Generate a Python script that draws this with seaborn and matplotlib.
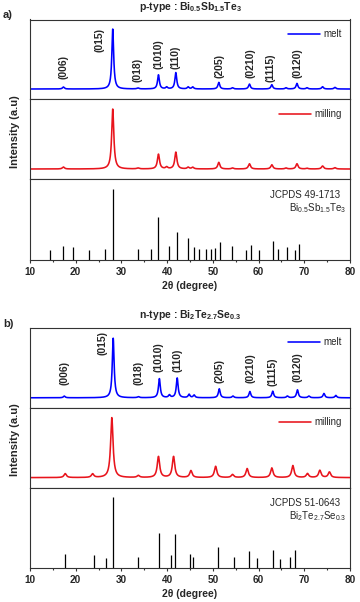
"""XRD patterns of p-type and n-type BiSbTe / BiTeSe: melt, milling and JCPDS sticks."""

import matplotlib
matplotlib.use("Agg")

import matplotlib.pyplot as plt  # noqa: E402
import numpy as np  # noqa: E402
import seaborn as sns  # noqa: E402

sns.set_style("ticks")
plt.rcParams["font.family"] = ["Liberation Sans", "DejaVu Sans"]
plt.rcParams["mathtext.fontset"] = "custom"
plt.rcParams["mathtext.rm"] = "Liberation Sans"
plt.rcParams["mathtext.it"] = "Liberation Sans:italic"
plt.rcParams["mathtext.bf"] = "Liberation Sans:bold"

# === Data (2theta in degree, intensity normalised to the (015) peak = 100) ===
p_melt_pos = [17.3, 28.1, 33.6, 38.1, 39.9, 41.9, 44.6, 45.6, 51.3, 54.3,
              58.0, 62.9, 66.0, 68.4, 70.6, 74.0, 76.7]
p_melt_int = [3.3, 100, 1.6, 23.5, 3, 27.3, 3.3, 3.3, 11, 2,
              8.2, 7.1, 2, 9.3, 2, 3.8, 2.7]
p_mill_pos = p_melt_pos
p_mill_int = [3.3, 100, 1.5, 24.6, 3, 28, 2.7, 2.7, 11, 1.6,
              8.7, 7, 1.6, 8.7, 1.2, 5, 2.2]

n_melt_pos = [17.5, 28.2, 33.7, 38.3, 40.5, 42.2, 44.8, 45.9, 51.4, 54.4,
              58.1, 63.1, 66.3, 68.5, 71.0, 74.3, 76.9]
n_melt_int = [2.8, 100, 1.7, 32, 4.4, 33, 5.6, 4.4, 15, 2.8,
              10.5, 11, 2.8, 13.3, 2.8, 7.2, 3.9]
n_mill_pos = [17.7, 23.7, 27.9, 33.7, 38.1, 41.4, 45.2, 50.6, 54.3, 57.5,
              62.9, 67.5, 70.7, 73.4, 75.5]
n_mill_int = [6.6, 6, 100, 3.3, 35, 35, 11.5, 18.7, 5, 15,
              16, 20, 6.6, 12, 9.3]

jc_p_pos = [14.4, 17.3, 19.4, 23.0, 26.3, 28.1, 33.6, 36.5, 38.1, 40.4,
            42.1, 44.6, 45.8, 47.0, 48.4, 49.6, 50.5, 51.6, 54.1, 57.3,
            58.3, 60.1, 63.1, 64.2, 66.2, 67.9, 68.9]
jc_p_int = [13.7, 18.9, 17.0, 13.7, 14.2, 100, 15.1, 15.1, 59.9, 18.4,
            38.7, 30.2, 17.9, 15.1, 14.2, 14.2, 16.0, 24.1, 18.4, 13.7,
            19.8, 13.7, 25.5, 14.2, 17.5, 13.2, 21.2]
jc_n_pos = [17.7, 24.0, 26.6, 28.1, 33.7, 38.3, 40.8, 41.7, 45.1, 45.6,
            51.1, 54.6, 57.8, 59.7, 63.1, 64.7, 66.8, 67.9]
jc_n_int = [18.9, 17.0, 13.7, 100, 14.2, 48.6, 17.5, 47.2, 18.4, 14.6,
            29.2, 15.1, 23.1, 13.7, 24.5, 12.7, 15.1, 25.0]

hkl_labels = ["(006)", "(015)", "(018)", "(1010)", "(110)",
              "(205)", "(0210)", "(1115)", "(0120)"]
p_hkl_x = [17.4, 25.3, 33.6, 38.0, 41.8, 51.5, 58.3, 62.7, 68.5]
p_hkl_y = [16, 62, 12, 34, 34, 18, 18, 12, 18]
n_hkl_x = [17.5, 25.8, 33.7, 38.1, 42.2, 51.5, 58.3, 63.1, 68.6]
n_hkl_y = [21, 71, 21, 44, 44, 24, 24, 20, 26]

two_theta = np.linspace(10, 80, 3501)


def profile(pos, inten, hwhm):
    # sum of Lorentzian peaks at the listed positions
    y = np.zeros_like(two_theta)
    for p, h in zip(pos, inten):
        y += h / (1 + ((two_theta - p) / hwhm) ** 2)
    return y


W, H = 360, 602
fig = plt.figure(figsize=(W / 100, H / 100), dpi=100)

groups = [
    dict(top=19.5, title=r"p-type : Bi$_\mathbf{0.5}$Sb$_\mathbf{1.5}$Te$_\mathbf{3}$",
         tag="a)", melt=(p_melt_pos, p_melt_int, 0.24), mill=(p_mill_pos, p_mill_int, 0.28),
         sticks=(jc_p_pos, jc_p_int), card="JCPDS 49-1713",
         phase=r"Bi$_{0.5}$Sb$_{1.5}$Te$_3$", hx=p_hkl_x, hy=p_hkl_y,
         ylims=[(-17.5, 116), (-17.5, 116), (0, 113)]),
    dict(top=327.5, title=r"n-type : Bi$_\mathbf{2}$Te$_\mathbf{2.7}$Se$_\mathbf{0.3}$",
         tag="b)", melt=(n_melt_pos, n_melt_int, 0.24), mill=(n_mill_pos, n_mill_int, 0.32),
         sticks=(jc_n_pos, jc_n_int), card="JCPDS 51-0643",
         phase=r"Bi$_2$Te$_{2.7}$Se$_{0.3}$", hx=n_hkl_x, hy=n_hkl_y,
         ylims=[(-16.3, 118), (-16.5, 117), (0, 113)]),
]

panel_h = 80
for g in groups:
    gs = fig.add_gridspec(3, 1, left=30 / W, right=350 / W,
                          top=1 - g["top"] / H, bottom=1 - (g["top"] + 3 * panel_h) / H,
                          hspace=0)
    axes = [fig.add_subplot(gs[i]) for i in range(3)]

    pos, inten, w = g["melt"]
    sns.lineplot(x=two_theta, y=profile(pos, inten, w), ax=axes[0],
                 color="#0000ff", linewidth=1.15, label="melt")
    pos, inten, w = g["mill"]
    sns.lineplot(x=two_theta, y=profile(pos, inten, w), ax=axes[1],
                 color="#e8141c", linewidth=1.15, label="milling")
    pos, inten = g["sticks"]
    axes[2].vlines(pos, 0, inten, color="black", linewidth=0.9)

    for lab, x, y in zip(hkl_labels, g["hx"], g["hy"]):
        axes[0].text(x, y, lab, rotation=90, ha="center", va="bottom",
                     fontsize=7.5, fontweight="bold")

    for ax, yl in zip(axes, g["ylims"]):
        ax.set_xlim(10, 80)
        ax.set_ylim(*yl)
        ax.set_yticks([])
        ax.set_ylabel("")
        for s in ax.spines.values():
            s.set_color("#333333")
            s.set_linewidth(0.8)
    for ax in axes[:2]:
        ax.tick_params(bottom=False, labelbottom=False)
        ax.legend(loc="upper right", frameon=False, fontsize=7,
                  handlelength=3.3, handletextpad=0.3,
                  bbox_to_anchor=(0.985, 0.93), borderaxespad=0)

    ax = axes[2]
    ax.set_xticks(range(10, 81, 10))
    ax.set_xticks(range(15, 80, 10), minor=True)
    ax.tick_params(axis="x", which="major", direction="out", length=2.2, width=0.8,
                   pad=3, labelsize=7.2, color="#333333")
    ax.tick_params(axis="x", which="minor", direction="out", length=1.3, width=0.8,
                   color="#333333")
    for t in ax.get_xticklabels():
        t.set_fontweight("bold")
    ax.set_xlabel("2θ (degree)", fontsize=7.5, fontweight="bold", labelpad=3)
    ax.text(0.97, 0.8, g["card"], transform=ax.transAxes, ha="right", va="center",
            fontsize=7)
    ax.text(0.9, 0.64, g["phase"], transform=ax.transAxes, ha="center", va="center",
            fontsize=7)

    fig.text(190 / W, 1 - (g["top"] - 12) / H, g["title"], ha="center", va="center",
             fontsize=7.5, fontweight="bold")
    fig.text(8 / W, 1 - (g["top"] - 4) / H, g["tag"], ha="center", va="center",
             fontsize=8, fontweight="bold")
    fig.text(15 / W, 1 - (g["top"] + 112) / H, "Intensity (a.u)", rotation=90,
             ha="center", va="center", fontsize=8, fontweight="bold")

fig.savefig("out.png", dpi=100)
